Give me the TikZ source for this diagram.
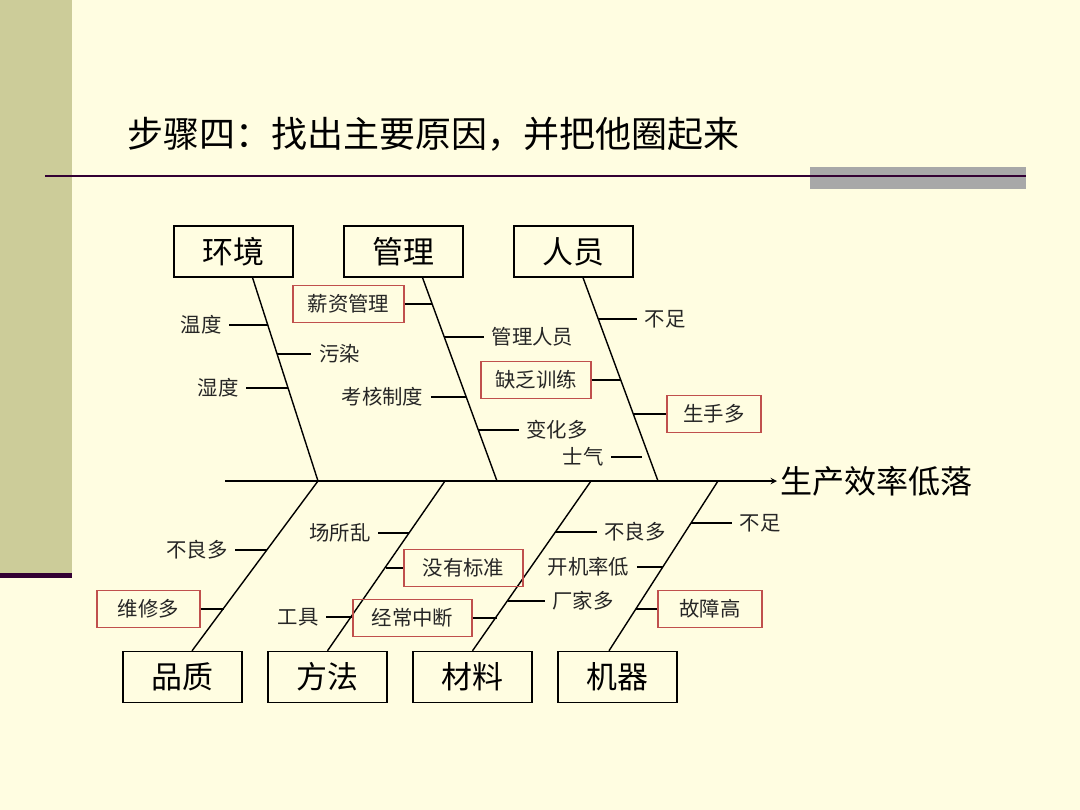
\documentclass[tikz,border=0pt]{standalone}
\usepackage{fontspec}
\setmainfont{Noto Sans CJK SC}
\definecolor{paper}{HTML}{FFFDE1}
\definecolor{bar}{HTML}{CCCC99}
\definecolor{stripe}{HTML}{330033}
\definecolor{band}{HTML}{A8A8A8}
\definecolor{keyred}{HTML}{C0504D}
\begin{document}
\begin{tikzpicture}[x=0.025cm,y=-0.025cm,line width=0.9pt,>=stealth,every node/.style={font=\fontsize{14.5pt}{17pt}\selectfont,text=black!85},cat/.style={draw,line width=1pt,minimum width=2.975cm,minimum height=1.275cm,inner sep=0pt,text=black,font=\fontsize{22pt}{26pt}\selectfont},lbl/.style={inner sep=5pt},key/.style={draw=keyred,line width=1pt,minimum height=0.925cm,inner sep=0pt}]
% page
\fill[paper] (0,0) rectangle (1080,810);
\fill[bar] (0,0) rectangle (72,573); \fill[stripe] (0,573) rectangle (72,578);
\fill[band] (810,167) rectangle (1026,189);
\draw[stripe,line width=1.5pt] (45,176) -- (1026,176);
\node[anchor=west,inner sep=0pt,text=black,font=\fontsize{25.6pt}{30pt}\selectfont] (title) at (127,134) {步骤四：找出主要原因，并把他圈起来};
% spine
\coordinate (tail) at (225,481);
\node[anchor=west,inner sep=2pt,text=black,font=\fontsize{22.8pt}{26pt}\selectfont] (goal) at (777,481) {生产效率低落};
\draw[->,line width=1pt] (tail) -- (goal);
% categories
\node[cat] (env) at (233.5,251.5) {环境}; \node[cat] (mgt) at (403.5,251.5) {管理}; \node[cat] (ppl) at (573.5,251.5) {人员};
\node[cat] (qua) at (182.5,677) {品质}; \node[cat] (mth) at (327.5,677) {方法};
\node[cat] (mat) at (472.5,677) {材料}; \node[cat] (mac) at (617.5,677) {机器};
\coordinate (j1) at (318,481); \coordinate (j2) at (497,481); \coordinate (j3) at (658,481);
\coordinate (k1) at (318,481); \coordinate (k2) at (445,481); \coordinate (k3) at (591,481); \coordinate (k4) at (718,481);
\draw[line width=1pt] (env.-54)--(j1); \draw[line width=1pt] (mgt.-54)--(j2); \draw[line width=1pt] (ppl.-70)--(j3);
\draw[line width=1pt] (qua.70)--(k1); \draw[line width=1pt] (mth.90)--(k2); \draw[line width=1pt] (mat.90)--(k3); \draw[line width=1pt] (mac.108)--(k4);
% causes, top
\node[lbl] (wendu) at (201,325) {温度}; \coordinate (env1) at (267.5,325);
\node[lbl] (wuran) at (339.5,354) {污染}; \coordinate (env2) at (277,354);
\node[lbl] (shidu) at (218,388) {湿度}; \coordinate (env3) at (288,388);
\node[key,minimum width=2.775cm] (xinzi) at (348.5,304) {薪资管理}; \coordinate (mgt1) at (432,304);
\node[lbl] (guanli) at (532.5,337) {管理人员}; \coordinate (mgt2) at (444,337);
\node[lbl] (kaohe) at (382.5,397) {考核制度}; \coordinate (mgt3) at (466,397);
\node[lbl] (bianhua) at (557,430) {变化多}; \coordinate (mgt4) at (478,430);
\node[lbl] (buzu) at (665,319) {不足}; \coordinate (ppl1) at (598.4,319);
\node[key,minimum width=2.75cm] (quefa) at (536,380) {缺乏训练}; \coordinate (ppl2) at (620.5,380);
\node[key,minimum width=2.35cm] (shengshou) at (714,414) {生手多}; \coordinate (ppl3) at (633.5,414);
\node[lbl] (shiqi) at (583,457) {士气}; \coordinate (ppl4) at (642,457);
\draw (wendu)--(env1); \draw (env2)--(wuran); \draw (shidu)--(env3);
\draw (xinzi)--(mgt1); \draw (mgt2)--(guanli); \draw (kaohe)--(mgt3); \draw (mgt4)--(bianhua);
\draw (ppl1)--(buzu); \draw (quefa)--(ppl2); \draw (ppl3)--(shengshou); \draw (shiqi)--(ppl4);
% causes, bottom
\node[lbl] (buliang) at (197,550) {不良多}; \coordinate (qua1) at (267,550);
\node[key,minimum width=2.575cm] (weixiu) at (148.5,609) {维修多}; \coordinate (qua2) at (224,609);
\node[lbl] (changsuo) at (340,533) {场所乱}; \coordinate (mth1) at (409.4,533);
\node[key,minimum width=2.975cm] (meiyou) at (463.5,568) {没有标准}; \coordinate (mth2) at (385.5,568);
\node[lbl] (gongju) at (298,617) {工具}; \coordinate (mth3) at (352,617);
\node[key,minimum width=2.975cm] (jingchang) at (412.5,618) {经常中断}; \coordinate (mat1) at (496.5,618);
\node[lbl] (changjia) at (583,601) {厂家多}; \coordinate (mat2) at (508.2,601);
\node[lbl] (buliangb) at (635,532) {不良多}; \coordinate (mat3) at (555.8,532);
\node[lbl] (kaiji) at (588.5,567) {开机率低}; \coordinate (mac1) at (663.2,567);
\node[lbl] (buzub) at (760,523) {不足}; \coordinate (mac2) at (691.2,523);
\node[key,minimum width=2.6cm] (guzhang) at (710,609) {故障高}; \coordinate (mac3) at (636.4,609);
\draw (buliang)--(qua1); \draw (weixiu)--(qua2);
\draw (changsuo)--(mth1); \draw (mth2)--(meiyou); \draw (gongju)--(mth3);
\draw (jingchang)--(mat1); \draw (mat2)--(changjia); \draw (mat3)--(buliangb);
\draw (kaiji)--(mac1); \draw (mac2)--(buzub); \draw (mac3)--(guzhang);
\end{tikzpicture}
\end{document}
